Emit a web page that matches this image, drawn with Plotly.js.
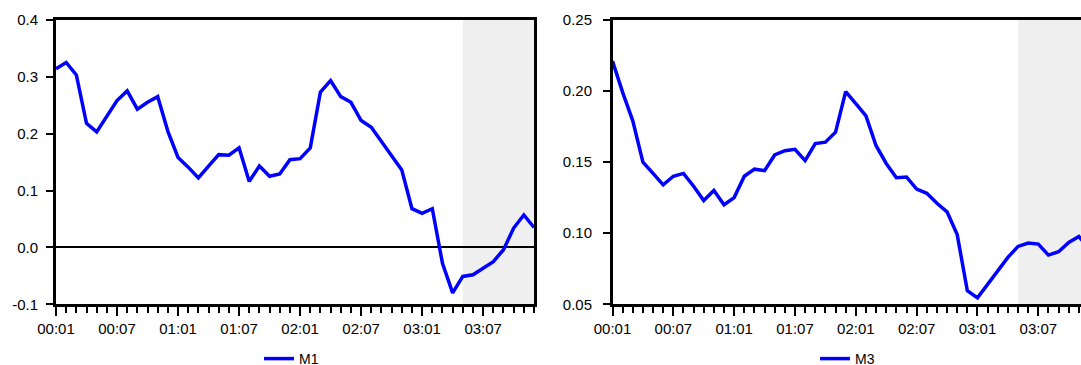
<!DOCTYPE html>
<html>
<head>
<meta charset="utf-8">
<script src="https://cdn.plot.ly/plotly-3.0.1.min.js"></script>
<style>
html, body { margin:0; padding:0; overflow:hidden; background:#fff; }
#chart { width:1100px; height:385px; }
</style>
</head>
<body>
<div id="chart"></div>
<script>
// Monthly periods 2000:01 .. 2003:12
var periods = [
  "00:01","00:02","00:03","00:04","00:05","00:06","00:07","00:08","00:09","00:10","00:11","00:12",
  "01:01","01:02","01:03","01:04","01:05","01:06","01:07","01:08","01:09","01:10","01:11","01:12",
  "02:01","02:02","02:03","02:04","02:05","02:06","02:07","02:08","02:09","02:10","02:11","02:12",
  "03:01","03:02","03:03","03:04","03:05","03:06","03:07","03:08","03:09","03:10","03:11","03:12"
];
var m1 = [
  0.314, 0.325, 0.303, 0.218, 0.203, 0.230, 0.258, 0.275, 0.243, 0.255, 0.265, 0.204,
  0.158, 0.141, 0.122, 0.143, 0.163, 0.162, 0.175, 0.116, 0.143, 0.125, 0.129, 0.154,
  0.156, 0.175, 0.273, 0.293, 0.265, 0.255, 0.223, 0.211, 0.186, 0.160, 0.136, 0.068,
  0.060, 0.068, -0.028, -0.080, -0.051, -0.048, -0.036, -0.025, -0.004, 0.034, 0.057, 0.035
];
var m3 = [
  0.221, 0.199, 0.179, 0.150, 0.142, 0.134, 0.140, 0.142, 0.133, 0.123, 0.130, 0.120,
  0.125, 0.140, 0.145, 0.144, 0.155, 0.158, 0.159, 0.151, 0.163, 0.164, 0.171, 0.1995,
  0.191, 0.1825, 0.1615, 0.149, 0.139, 0.1395, 0.131, 0.128, 0.121, 0.115, 0.099, 0.0595,
  0.0545, 0.064, 0.073, 0.083, 0.0907, 0.093, 0.0923, 0.0846, 0.087, 0.0935, 0.0977, 0.089
];
var xTickLabels = ["00:01","00:07","01:01","01:07","02:01","02:07","03:01","03:07"];
var y1TickVals = [-0.1, 0.0, 0.1, 0.2, 0.3, 0.4];
var y1TickText = ["-0.1","0.0","0.1","0.2","0.3","0.4"];
var y2TickVals = [0.05, 0.10, 0.15, 0.20, 0.25];
var y2TickText = ["0.05","0.10","0.15","0.20","0.25"];
var shadeStart = "03:05";

var xIdx = periods.map(function(_, i){ return i; });
var xTickVals = xTickLabels.map(function(l){ return periods.indexOf(l); });
var shadeIdx = periods.indexOf(shadeStart);
var lastIdx = periods.length - 1;

var W = 1100, H = 385;
var Y_DOMAIN = [(H - 304.3) / H, (H - 19.8) / H];
var tickFont = {family: "Liberation Sans, Arial, sans-serif", size: 15, color: "#000"};
var legFont = {family: "Liberation Sans, Arial, sans-serif", size: 14, color: "#000"};

function xaxisDef(d0, d1, anchor) {
  return {
    domain: [d0 / W, d1 / W], anchor: anchor,
    range: [0, lastIdx],
    tickmode: "array", tickvals: xTickVals, ticktext: xTickLabels,
    ticks: "outside", ticklen: 9, tickwidth: 2, tickcolor: "#000",
    minor: {tickmode: "linear", tick0: 0, dtick: 1, ticks: "outside", ticklen: 6, tickwidth: 2, tickcolor: "#000", showgrid: false},
    showline: true, linewidth: 3, linecolor: "#000", mirror: true,
    showgrid: false, zeroline: false, tickfont: tickFont, fixedrange: true
  };
}
// main y axis: frame + tick marks only
function yaxisDef(range, vals, anchor, zl) {
  return {
    domain: Y_DOMAIN, anchor: anchor,
    range: range,
    tickmode: "array", tickvals: vals, showticklabels: false,
    ticks: "outside", ticklen: 7, tickwidth: 2, tickcolor: "#000",
    showline: true, linewidth: 3, linecolor: "#000", mirror: true,
    showgrid: false, zeroline: zl, zerolinecolor: "#000", zerolinewidth: 2,
    fixedrange: true
  };
}
// overlay y axis carrying only the labels, set a little further left
function yLabelAxisDef(range, vals, text, over, posPx) {
  return {
    overlaying: over, anchor: "free", position: posPx / W, side: "left",
    range: range, autorange: false,
    tickmode: "array", tickvals: vals, ticktext: text,
    ticks: "", showline: false, showgrid: false, zeroline: false,
    tickfont: tickFont, fixedrange: true
  };
}

var traces = [
  {x: xIdx, y: m1, type: "scatter", mode: "lines", name: "M1",
   line: {color: "#0000FF", width: 3.5}, xaxis: "x", yaxis: "y", legend: "legend"},
  {x: xIdx, y: m3, type: "scatter", mode: "lines", name: "M3",
   line: {color: "#0000FF", width: 3.5}, xaxis: "x2", yaxis: "y2", legend: "legend2"},
  // empty traces that only register the label axes
  {x: [], y: [], type: "scatter", mode: "lines", xaxis: "x", yaxis: "y3", showlegend: false, hoverinfo: "skip"},
  {x: [], y: [], type: "scatter", mode: "lines", xaxis: "x2", yaxis: "y4", showlegend: false, hoverinfo: "skip"}
];

var layout = {
  width: W, height: H,
  margin: {l: 0, r: 0, t: 0, b: 0},
  paper_bgcolor: "#fff", plot_bgcolor: "#fff",
  font: legFont,
  showlegend: true,
  xaxis: xaxisDef(56, 534, "y"),
  yaxis: yaxisDef([-0.1, 0.4], y1TickVals, "x", true),
  yaxis3: yLabelAxisDef([-0.1, 0.4], y1TickVals, y1TickText, "y", 38),
  xaxis2: xaxisDef(612.5, 1089, "y2"),
  yaxis2: yaxisDef([0.05, 0.25], y2TickVals, "x2", false),
  yaxis4: yLabelAxisDef([0.05, 0.25], y2TickVals, y2TickText, "y2", 592),
  legend: {x: 259 / W, xanchor: "left", y: (H - 359) / H, yanchor: "middle",
           orientation: "h", font: legFont, bgcolor: "rgba(0,0,0,0)"},
  legend2: {x: 815 / W, xanchor: "left", y: (H - 359) / H, yanchor: "middle",
            orientation: "h", font: legFont, bgcolor: "rgba(0,0,0,0)"},
  shapes: [
    {type: "rect", xref: "x", yref: "y domain", x0: shadeIdx, x1: lastIdx, y0: 0, y1: 1,
     fillcolor: "#EFEFEF", line: {width: 0}, layer: "below"},
    {type: "rect", xref: "x2", yref: "y2 domain", x0: shadeIdx, x1: lastIdx, y0: 0, y1: 1,
     fillcolor: "#EFEFEF", line: {width: 0}, layer: "below"}
  ]
};

Plotly.newPlot("chart", traces, layout, {displayModeBar: false, staticPlot: true});
</script>
</body>
</html>
